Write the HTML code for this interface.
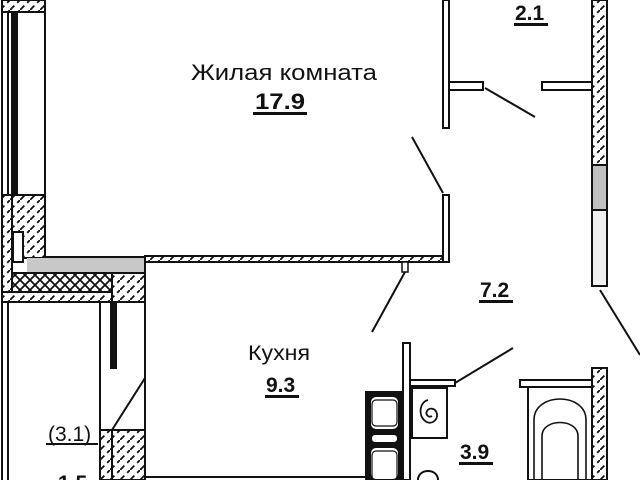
<!DOCTYPE html>
<html><head><meta charset="utf-8"><style>
html,body{margin:0;padding:0;background:#fff;width:640px;height:480px;overflow:hidden}
svg{display:block}
text{font-family:"Liberation Sans",sans-serif;fill:#111}
</style></head><body>
<svg width="640" height="480" viewBox="0 0 640 480" xmlns="http://www.w3.org/2000/svg">
<defs>
<pattern id="h" x="0" y="0" width="10" height="10" patternUnits="userSpaceOnUse">
<rect width="10" height="10" fill="#fff"/><path d="M-2 12L12 -2" stroke="#111" stroke-width="1.8" stroke-dasharray="9 4"/></pattern>
<pattern id="x" width="10" height="10" patternUnits="userSpaceOnUse">
<rect width="10" height="10" fill="#fff"/><path d="M0 0L10 10M10 0L0 10" stroke="#111" stroke-width="1.8"/></pattern>
</defs>
<g stroke="#111" stroke-width="2" fill="none">
<rect x="2" y="0" width="43" height="12" fill="url(#h)"/>
<line x1="2" y1="12" x2="2" y2="195"/><line x1="8" y1="12" x2="8" y2="195"/>
<rect x="12" y="12" width="5" height="183" fill="#111"/>
<line x1="45" y1="0" x2="45" y2="257"/>
<rect x="2" y="195" width="10" height="105" fill="url(#h)"/>
<rect x="12" y="195" width="33" height="63" fill="url(#h)"/>
<rect x="13" y="232" width="10" height="30" fill="#fff"/>
<rect x="27" y="258" width="118" height="14" fill="#c8c8c8" stroke="none"/>
<line x1="45" y1="257" x2="145" y2="257"/>
<rect x="12" y="273" width="100" height="19" fill="url(#x)"/>
<rect x="2" y="292" width="110" height="10" fill="url(#h)"/>
<rect x="112" y="273" width="33" height="29" fill="url(#h)"/>
<line x1="2" y1="302" x2="2" y2="480"/><line x1="8" y1="302" x2="8" y2="480"/>
<line x1="100" y1="302" x2="100" y2="480"/>
<rect x="111" y="302" width="5" height="66" fill="#111"/>
<line x1="112" y1="430" x2="145" y2="378"/>
<rect x="100" y="430" width="12" height="50" fill="url(#h)"/>
<rect x="112" y="430" width="33" height="50" fill="url(#h)"/>
<line x1="145" y1="262" x2="145" y2="480"/>
<rect x="145" y="256" width="304" height="6" fill="url(#h)"/>
<line x1="145" y1="477" x2="367" y2="477"/>
<rect x="443" y="195" width="6" height="67" fill="#fff"/>
<line x1="412" y1="137" x2="443" y2="193"/>
<rect x="402" y="262" width="6" height="10" fill="#fff" stroke-width="1.5"/>
<line x1="405" y1="272" x2="372" y2="332"/>
<rect x="443" y="0" width="6" height="128" fill="#fff"/>
<rect x="449" y="82" width="34" height="8" fill="#fff"/>
<line x1="485" y1="88" x2="535" y2="117"/>
<rect x="542" y="82" width="50" height="8" fill="#fff"/>
<rect x="592" y="0" width="15" height="165" fill="url(#h)"/>
<rect x="592" y="165" width="15" height="45" fill="#c0c0c0"/>
<rect x="592" y="210" width="15" height="76" fill="#f0f0f0"/>
<line x1="600" y1="290" x2="640" y2="355"/>
<rect x="403" y="343" width="7" height="137" fill="#fff"/>
<rect x="410" y="380" width="45" height="6" fill="#fff"/>
<line x1="455" y1="383" x2="513" y2="348"/>
<rect x="366" y="392" width="37" height="88" fill="#111"/>
<rect x="370" y="396" width="29" height="34" rx="6" fill="#fff"/>
<rect x="372" y="400" width="25" height="26" rx="4" stroke-width="1.2"/>
<rect x="371" y="434" width="27" height="9" rx="4" fill="#fff"/>
<rect x="370" y="447" width="29" height="33" rx="6" fill="#fff"/>
<rect x="372" y="451" width="25" height="29" rx="4" stroke-width="1.2"/>
<rect x="412" y="388" width="35" height="50" fill="#fff"/>
<path d="M428 400c-8 2-10 14-4 20c6 6 14 1 13-6c-1-6-8-7-10-3c-2 4 2 7 5 5" stroke-width="1.8"/>
<path d="M418 480c0-12 20-12 20 0" stroke-width="2"/>
<rect x="520" y="380" width="78" height="7" fill="#fff"/>
<rect x="528" y="387" width="64" height="93" fill="#fff"/>
<path d="M534 480V420c0-28 52-28 52 0V480" stroke-width="1.6"/>
<path d="M542 480V436c0-18 36-18 36 0V480" stroke-width="1.6"/>
<rect x="592" y="368" width="15" height="112" fill="url(#h)"/>
</g>
<text x="191" y="80" font-size="22" textLength="186" lengthAdjust="spacingAndGlyphs">Жилая комната</text>
<text x="255" y="109" font-size="22" font-weight="bold" textLength="50" lengthAdjust="spacingAndGlyphs">17.9</text>
<rect x="253" y="112" width="54" height="3" fill="#111"/>
<text x="515" y="20" font-size="21" font-weight="bold">2.1</text>
<rect x="514" y="23" width="34" height="3" fill="#111"/>
<text x="480" y="297" font-size="21" font-weight="bold">7.2</text>
<rect x="479" y="300" width="34" height="3" fill="#111"/>
<text x="248" y="360" font-size="21" textLength="62" lengthAdjust="spacingAndGlyphs">Кухня</text>
<text x="266" y="392" font-size="21" font-weight="bold">9.3</text>
<rect x="265" y="395" width="34" height="3" fill="#111"/>
<text x="460" y="459" font-size="21" font-weight="bold">3.9</text>
<rect x="459" y="462" width="34" height="3" fill="#111"/>
<text x="48" y="441" font-size="21">(3.1)</text>
<rect x="46" y="443" width="52" height="2" fill="#111"/>
<text x="58" y="490" font-size="21" font-weight="bold">1.5</text>
</svg>
</body></html>
